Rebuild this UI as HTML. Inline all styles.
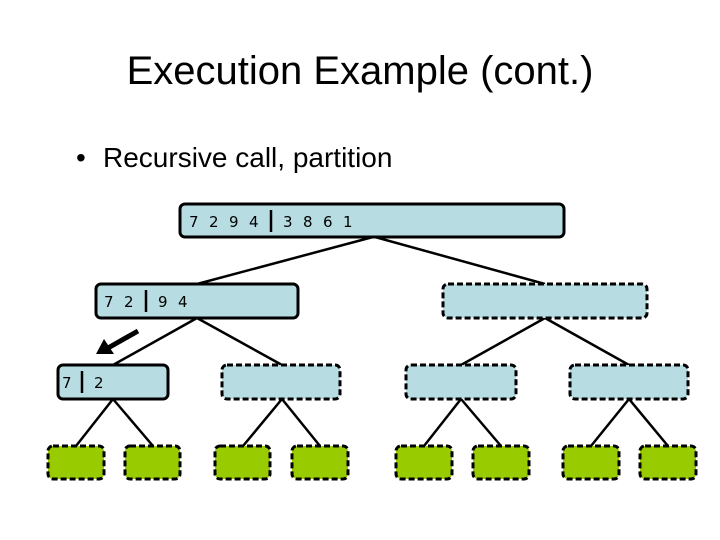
<!DOCTYPE html>
<html><head><meta charset="utf-8"><style>
body{margin:0;background:#fff;}
svg{display:block;}
</style></head><body>
<svg width="720" height="540" viewBox="0 0 720 540" xmlns="http://www.w3.org/2000/svg">
<text x="360" y="84" text-anchor="middle" font-family="Liberation Sans, sans-serif" font-size="40" fill="#000">Execution Example (cont.)</text>
<text x="76" y="167" font-family="Liberation Sans, sans-serif" font-size="28" fill="#000">•</text>
<text x="103" y="167" font-family="Liberation Sans, sans-serif" font-size="28" fill="#000">Recursive call, partition</text>

<g stroke="#000" stroke-width="2.5" fill="none">
<line x1="373" y1="237" x2="197" y2="284"/>
<line x1="375" y1="237" x2="545" y2="284"/>
<line x1="197" y1="318" x2="113" y2="365"/>
<line x1="197" y1="318" x2="282" y2="365"/>
<line x1="545" y1="318" x2="461" y2="365"/>
<line x1="545" y1="318" x2="629" y2="365"/>
<line x1="113" y1="399" x2="76" y2="446"/>
<line x1="113" y1="399" x2="153" y2="446"/>
<line x1="282" y1="399" x2="243" y2="446"/>
<line x1="282" y1="399" x2="320" y2="446"/>
<line x1="461" y1="399" x2="424" y2="446"/>
<line x1="461" y1="399" x2="501" y2="446"/>
<line x1="629" y1="399" x2="591" y2="446"/>
<line x1="629" y1="399" x2="668" y2="446"/>
</g>

<g fill="#b7dde3" stroke="#000" stroke-width="3">
<rect x="180" y="204" width="384" height="33" rx="5"/>
<rect x="96" y="284" width="202" height="34" rx="5"/>
<rect x="58" y="365" width="110" height="34" rx="5"/>
</g>
<g fill="#b7dde3" stroke="#000" stroke-width="3" stroke-dasharray="6,3">
<rect x="443" y="284" width="204" height="34" rx="5"/>
<rect x="222" y="365" width="118" height="34" rx="5"/>
<rect x="406" y="365" width="110" height="34" rx="5"/>
<rect x="570" y="365" width="118" height="34" rx="5"/>
</g>
<g fill="#99cc00" stroke="#000" stroke-width="3" stroke-dasharray="6,3">
<rect x="48" y="446" width="56" height="33" rx="5"/>
<rect x="125" y="446" width="55" height="33" rx="5"/>
<rect x="215" y="446" width="55" height="33" rx="5"/>
<rect x="292" y="446" width="56" height="33" rx="5"/>
<rect x="396" y="446" width="56" height="33" rx="5"/>
<rect x="473" y="446" width="56" height="33" rx="5"/>
<rect x="563" y="446" width="56" height="33" rx="5"/>
<rect x="640" y="446" width="56" height="33" rx="5"/>
</g>

<g font-family="DejaVu Sans, sans-serif" font-size="15" fill="#000">
<text x="189" y="227">7</text><text x="209" y="227">2</text><text x="229" y="227">9</text><text x="249" y="227">4</text>
<text x="283" y="227">3</text><text x="303" y="227">8</text><text x="323" y="227">6</text><text x="343" y="227">1</text>
<text x="104" y="307">7</text><text x="124" y="307">2</text><text x="158" y="307">9</text><text x="178" y="307">4</text>
<text x="62" y="388">7</text><text x="94" y="388">2</text>
</g>
<g stroke="#000" stroke-width="2.5">
<line x1="271" y1="210" x2="271" y2="232"/>
<line x1="146" y1="290" x2="146" y2="312"/>
<line x1="82" y1="371" x2="82" y2="393"/>
</g>
<!-- arrow -->
<line x1="138" y1="331" x2="108" y2="348" stroke="#000" stroke-width="5"/>
<polygon points="96,354 104,339 114,354" fill="#000"/>
</svg>
</body></html>
